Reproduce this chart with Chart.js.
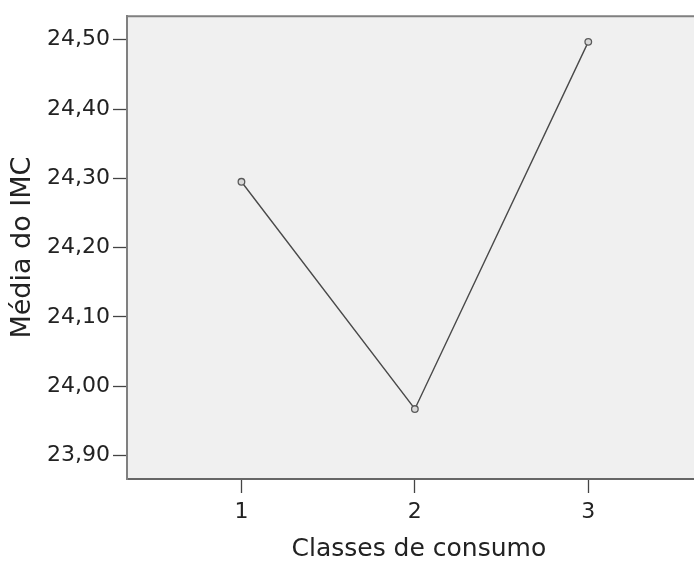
<!DOCTYPE html>
<html>
<head>
<meta charset="utf-8">
<script src="https://cdn.jsdelivr.net/npm/chart.js@4"></script>
<style>
  html, body { margin: 0; padding: 0; background: #ffffff; overflow: hidden; }
  #wrap { width: 694px; height: 562px; overflow: hidden; }
</style>
</head>
<body>
<div id="wrap"><canvas id="c" width="716" height="562"></canvas></div>
<script>
const categories = [1, 2, 3];
const meanIMC = [24.295, 23.967, 24.497];
const yTicks = [23.90, 24.00, 24.10, 24.20, 24.30, 24.40, 24.50];
const xTitle = 'Classes de consumo';
const yTitle = 'Média do IMC';

const FONT = '"DejaVu Sans", sans-serif';

const frame = {
  id: 'frame',
  beforeDraw(chart) {
    const { ctx, chartArea: a } = chart;
    ctx.save();
    ctx.fillStyle = '#f0f0f0';
    ctx.fillRect(a.left, a.top, a.right - a.left, a.bottom - a.top);
    ctx.restore();
  },
  afterDraw(chart) {
    const { ctx, chartArea: a } = chart;
    ctx.save();
    ctx.strokeStyle = '#808080';
    ctx.lineWidth = 2;
    ctx.beginPath();
    ctx.moveTo(a.left, a.top);
    ctx.lineTo(a.right, a.top);
    ctx.lineTo(a.right, a.bottom);
    ctx.stroke();
    ctx.restore();
  }
};

new Chart(document.getElementById('c'), {
  type: 'line',
  data: {
    datasets: [{
      data: categories.map((c, i) => ({ x: c, y: meanIMC[i] })),
      borderColor: '#4a4a4a',
      borderWidth: 1.4,
      pointRadius: 3.3,
      pointBorderWidth: 1.3,
      pointBorderColor: '#5a5a5a',
      pointBackgroundColor: '#d8d8d8',
      tension: 0
    }]
  },
  options: {
    responsive: false,
    animation: false,
    layout: { padding: { left: 4, top: 14, right: 0, bottom: 0 } },
    plugins: { legend: { display: false }, tooltip: { enabled: false } },
    scales: {
      x: {
        type: 'linear',
        min: 0.34,
        max: 3.706,
        afterBuildTicks(axis) { axis.ticks = categories.map(v => ({ value: v })); },
        afterFit(axis) { axis.height = 562 - 479; },
        grid: { drawOnChartArea: false, drawTicks: true, tickLength: 14, color: '#444444', tickWidth: 1.3 },
        border: { display: true, color: '#666666', width: 2 },
        ticks: { color: '#222222', font: { family: FONT, size: 22 }, padding: 6,
                 callback: v => String(v) },
        title: { display: true, text: xTitle, color: '#222222', font: { family: FONT, size: 25, lineHeight: 1 }, padding: { top: 4, bottom: 0 } }
      },
      y: {
        min: 23.866,
        max: 24.534,
        afterBuildTicks(axis) { axis.ticks = yTicks.map(v => ({ value: v })); },
        afterFit(axis) { axis.width = 127 - 4; },
        grid: { drawOnChartArea: false, drawTicks: true, tickLength: 14, color: '#444444', tickWidth: 1.3 },
        border: { display: true, color: '#808080', width: 2 },
        ticks: { color: '#222222', font: { family: FONT, size: 22 }, padding: 3,
                 callback: v => v.toFixed(2).replace('.', ',') },
        title: { display: true, text: yTitle, color: '#222222', font: { family: FONT, size: 27, lineHeight: 1.2 }, padding: { top: 3, bottom: 2 } }
      }
    }
  },
  plugins: [frame]
});
</script>
</body>
</html>
